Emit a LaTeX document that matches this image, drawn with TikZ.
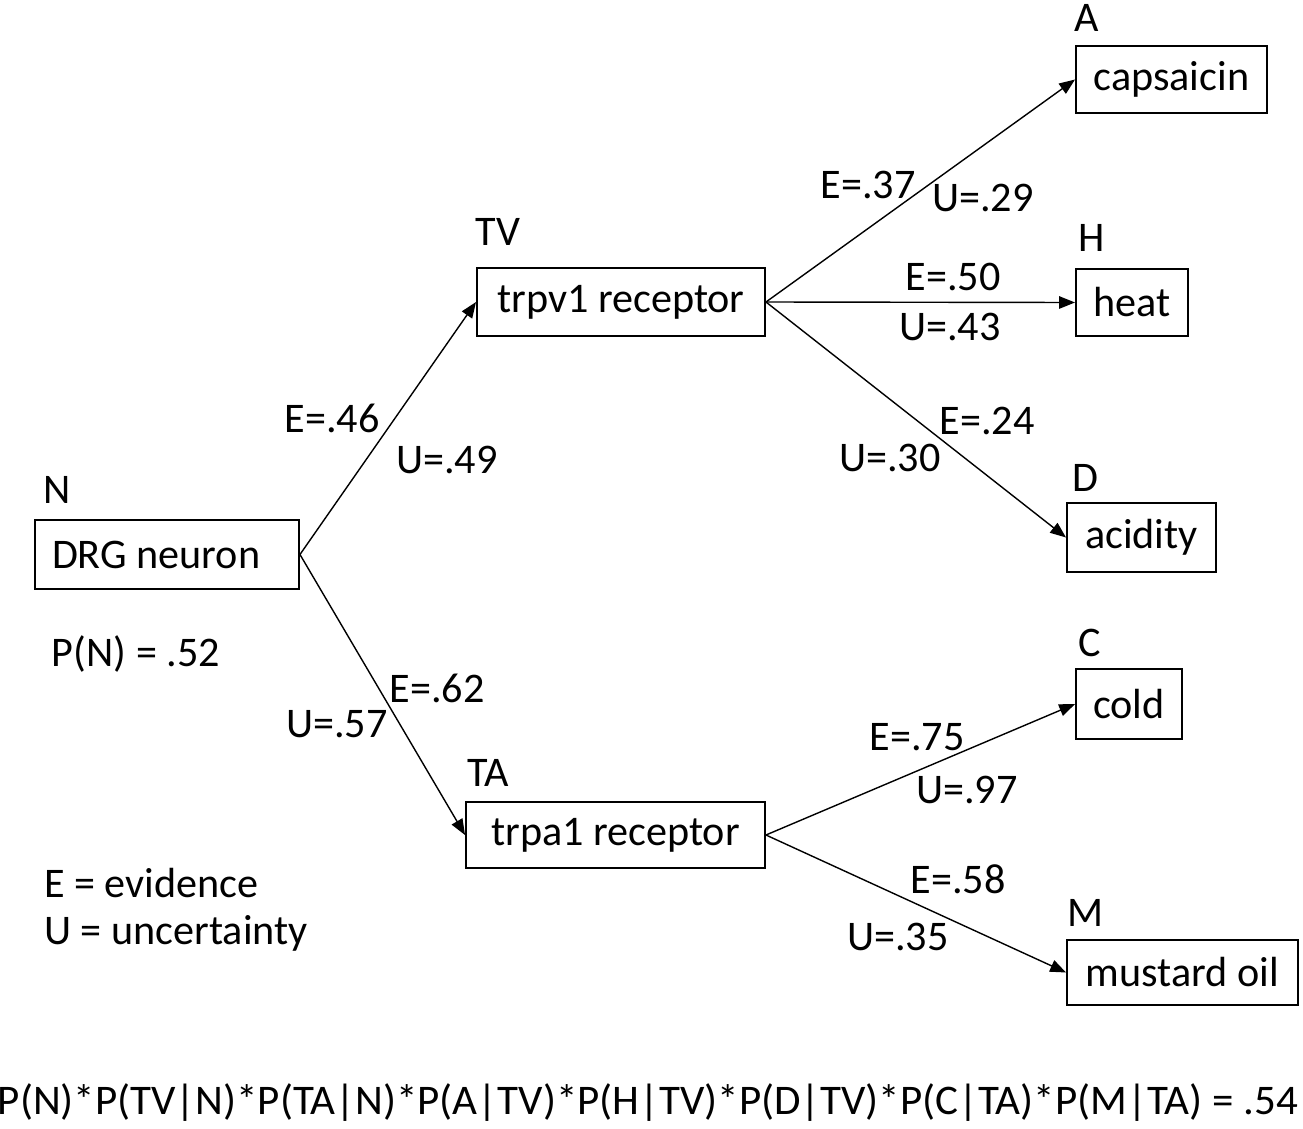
\documentclass[tikz,border=0pt]{standalone}
\usepackage{fontspec}
\usepackage{graphicx}
\setmainfont{Carlito}
\usetikzlibrary{arrows.meta}
\tikzset{
	box/.style={draw, line width=1.1pt, inner sep=0pt},
	lbl/.style={inner sep=0pt},
	arr/.style={line width=0.8pt, -{Triangle[length=9pt, width=7pt]}}
}
\begin{document}
\begin{tikzpicture}[x=0.02cm, y=-0.02cm, font=\fontsize{24}{28}\selectfont]
	\useasboundingbox (0,0) rectangle (1303,1129);
	%root
	\node[box, minimum height=69*0.02cm, inner xsep=17*0.02cm, text width=230*0.02cm, align=flush left] (N) at (167,554.5) {DRG neuron};
	\node[lbl] (lN) at (57,490) {N};
	\node[lbl] (pN) at (136,654) {P(N) = .52};
	%receptors
	\node[box, minimum width=288*0.02cm, minimum height=68*0.02cm] (TV) at (621,302) {trpv1 receptor};
	\node[lbl] (lTV) at (498,232) {TV};
	\node[box, minimum width=299*0.02cm, minimum height=66*0.02cm] (TA) at (615.5,835) {trpa1 receptor};
	\node[lbl] (lTA) at (488,773) {TA};
	%stimuli
	\node[box, minimum width=191*0.02cm, minimum height=67*0.02cm] (A) at (1171.5,79.5) {capsaicin};
	\node[lbl] (lA) at (1087,18) {A};
	\node[box, minimum width=112*0.02cm, minimum height=67*0.02cm] (H) at (1132,302.5) {heat};
	\node[lbl] (lH) at (1092,238) {H};
	\node[box, minimum width=149*0.02cm, minimum height=69*0.02cm] (D) at (1141.5,537.5) {acidity};
	\node[lbl] (lD) at (1085,478) {D};
	\node[box, minimum width=106*0.02cm, minimum height=70*0.02cm] (C) at (1129,704) {cold};
	\node[lbl] (lC) at (1090,643) {C};
	\node[box, minimum width=231*0.02cm, minimum height=65*0.02cm] (M) at (1182.5,972.5) {mustard oil};
	\node[lbl] (lM) at (1086,913) {M};
	%connectors
	\draw[arr] (N.east) -- (TV.west);
	\draw[arr] (N.east) -- (TA.west);
	\draw[arr] (TV.east) -- (A.west);
	\draw[arr] (TV.east) -- (H.west);
	\draw[arr] (TV.east) -- (D.west);
	\draw[arr] (TA.east) -- (C.west);
	\draw[arr] (TA.east) -- (M.west);
	%edge values
	\node[lbl] (eTV) at (332,418) {E=.46};
	\node[lbl] (uTV) at (447,460) {U=.49};
	\node[lbl] (eTA) at (437,688) {E=.62};
	\node[lbl] (uTA) at (337,724) {U=.57};
	\node[lbl] (eA) at (868,185) {E=.37};
	\node[lbl] (uA) at (983,198) {U=.29};
	\node[lbl] (eH) at (953,277) {E=.50};
	\node[lbl] (uH) at (950,327) {U=.43};
	\node[lbl] (eD) at (987,421) {E=.24};
	\node[lbl] (uD) at (890,458) {U=.30};
	\node[lbl] (eC) at (917,737) {E=.75};
	\node[lbl] (uC) at (967,790) {U=.97};
	\node[lbl] (eM) at (958,879) {E=.58};
	\node[lbl] (uM) at (898,937) {U=.35};
	%legend
	\node[lbl, anchor=west] (legE) at (44,883) {E = evidence};
	\node[lbl, anchor=west] (legU) at (44,933) {U = uncertainty};
	%joint probability
	\node[lbl] (joint) at (648,1103) {\scalebox{1.02}[1]{P(N)*P(TV|N)*P(TA|N)*P(A|TV)*P(H|TV)*P(D|TV)*P(C|TA)*P(M|TA) = .54}};
\end{tikzpicture}
\end{document}
